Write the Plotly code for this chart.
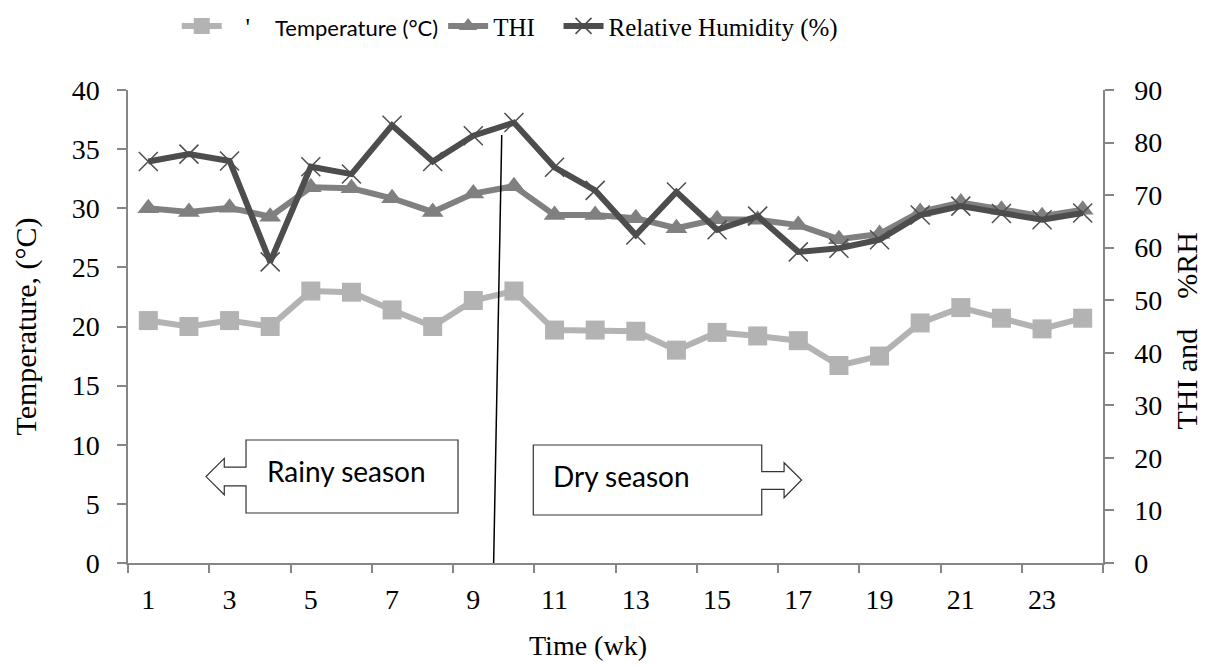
import plotly.graph_objects as go

# ---------------- data ----------------
weeks = list(range(1, 25))
temperature = [20.5, 20.0, 20.5, 20.0, 23.0, 22.9, 21.4, 20.0, 22.2, 23.0, 19.7, 19.7,
               19.6, 18.0, 19.5, 19.2, 18.8, 16.7, 17.5, 20.3, 21.6, 20.7, 19.8, 20.7]
thi = [67.5, 66.8, 67.6, 65.9, 71.5, 71.3, 69.4, 66.8, 70.3, 71.7, 66.2, 66.2,
       65.6, 63.7, 65.4, 65.3, 64.3, 61.6, 62.6, 66.8, 68.6, 67.2, 66.0, 67.2]
rh = [76.4, 77.8, 76.5, 57.3, 75.4, 74.0, 83.3, 76.4, 81.3, 83.8, 75.3, 70.9,
      62.4, 70.6, 63.4, 66.0, 59.2, 59.9, 61.5, 66.2, 67.9, 66.5, 65.3, 66.6]

x_tick_weeks = [1, 3, 5, 7, 9, 11, 13, 15, 17, 19, 21, 23]
x_tick_labels = [str(w) for w in x_tick_weeks]
left_ticks = [0, 5, 10, 15, 20, 25, 30, 35, 40]
right_ticks = [0, 10, 20, 30, 40, 50, 60, 70, 80, 90]

SERIF = "Liberation Serif"
SANS = "Lato"
AX = "#868686"
NB = "\u00a0"

fig = go.Figure()
fig.add_trace(go.Scatter(
    x=weeks, y=temperature, yaxis="y", mode="lines+markers",
    name=NB * 3 + "'" + NB * 4
         + "<span style='font-family:Lato;font-size:22px'>Temperature (°C)</span>",
    line=dict(color="#b3b3b3", width=6),
    marker=dict(symbol="square", size=19, color="#b3b3b3")))
fig.add_trace(go.Scatter(
    x=weeks, y=thi, yaxis="y2", mode="lines+markers", name="THI" + NB * 3,
    line=dict(color="#808080", width=6),
    marker=dict(symbol="triangle-up", size=19, color="#808080")))
fig.add_trace(go.Scatter(
    x=weeks, y=rh, yaxis="y2", mode="lines+markers", name="Relative Humidity (%)",
    line=dict(color="#4d4d4d", width=6),
    marker=dict(symbol="x-thin", size=19, color="#4d4d4d",
                line=dict(color="#4d4d4d", width=1.5))))

# season divider and arrow boxes (left-axis data coordinates)
fig.add_shape(type="line", xref="x", yref="y", x0=9.5, y0=0, x1=9.7, y1=36.2,
              line=dict(color="black", width=1.5))
rainy_path = ("M 3.405 10.40 L 8.623 10.40 L 8.623 4.23 L 3.405 4.23 L 3.405 6.53 "
              "L 2.870 6.53 L 2.870 5.77 L 2.42 7.31 L 2.870 8.85 L 2.870 8.10 L 3.405 8.10 Z")
dry_path = ("M 10.476 9.98 L 16.10 9.98 L 16.10 7.72 L 16.65 7.72 L 16.65 8.48 L 17.08 7.02 "
            "L 16.65 5.52 L 16.65 6.23 L 16.10 6.23 L 16.10 4.06 L 10.476 4.06 Z")
for p in (rainy_path, dry_path):
    fig.add_shape(type="path", xref="x", yref="y", path=p, fillcolor="white",
                  line=dict(color="#333333", width=1.2))

fig.add_annotation(x=5.89, y=7.78, xref="x", yref="y", text="Rainy season", showarrow=False,
                   font=dict(family=SANS, size=28, color="black"))
fig.add_annotation(x=12.65, y=7.36, xref="x", yref="y", text="Dry season", showarrow=False,
                   font=dict(family=SANS, size=28, color="black"))
fig.add_annotation(x=0.472, y=-0.175, xref="paper", yref="paper", text="Time (wk)",
                   showarrow=False, yanchor="middle",
                   font=dict(family=SERIF, size=28, color="black"))
# right axis title
fig.add_annotation(x=1.0855, y=0.49, xref="paper", yref="paper",
                   text="THI and" + NB * 4 + "%RH", showarrow=False, textangle=-90,
                   xanchor="center", yanchor="middle",
                   font=dict(family=SERIF, size=30, color="black"))

# page body has an 8px margin: figure is 1201x658 placed at (8, 8)
fig.update_layout(
    width=1201, height=658,
    margin=dict(l=120, r=106, t=82, b=103, autoexpand=False),
    plot_bgcolor="white", paper_bgcolor="white",
    font=dict(family=SERIF, size=28, color="black"),
    legend=dict(orientation="h", x=0.05, xanchor="left", y=1.135, yanchor="middle",
                font=dict(family=SERIF, size=25, color="black"),
                bgcolor="rgba(0,0,0,0)", itemwidth=40),
    xaxis=dict(range=[0.5, 24.5], tickmode="array", tickvals=x_tick_weeks,
               ticktext=x_tick_labels, ticks="", showline=True, linecolor=AX,
               linewidth=1.5, showgrid=False, zeroline=False, ticklabelstandoff=11,
               automargin=False,
               minor=dict(tickmode="linear", tick0=0.5, dtick=2, ticks="outside",
                          ticklen=8, tickcolor=AX, tickwidth=1.5, showgrid=False)),
    yaxis=dict(range=[0, 40], tickmode="array", tickvals=left_ticks, ticks="outside",
               ticklen=9, tickcolor=AX, tickwidth=1.5, showline=True, linecolor=AX,
               linewidth=1.5, showgrid=False, zeroline=False, ticklabelstandoff=12,
               automargin=False,
               title=dict(text="Temperature, (°C)", standoff=26,
                          font=dict(family=SERIF, size=30))),
    yaxis2=dict(range=[0, 90], overlaying="y", side="right", tickmode="array",
                tickvals=right_ticks, ticks="outside", ticklen=9, tickcolor=AX,
                tickwidth=1.5, showline=True, linecolor=AX, linewidth=1.5,
                showgrid=False, zeroline=False, ticklabelstandoff=15, automargin=False),
)

fig.write_html("out.html")
